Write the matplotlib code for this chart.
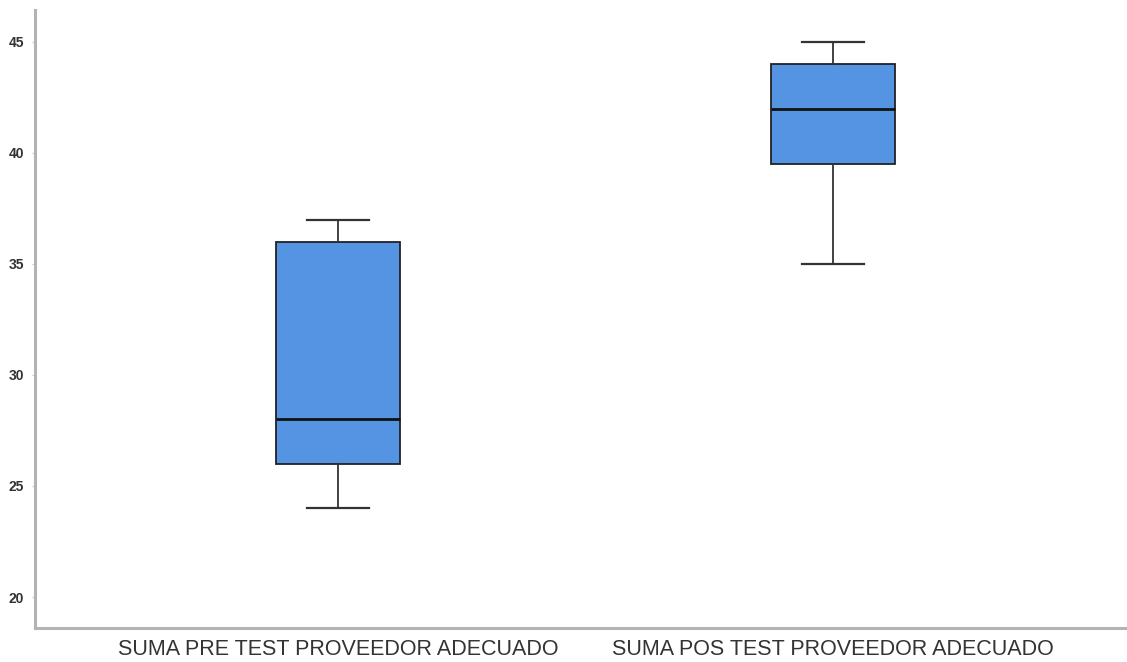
import matplotlib
matplotlib.use("Agg")
import matplotlib.pyplot as plt

# Five-number summaries for each group
categories = ["SUMA PRE TEST PROVEEDOR ADECUADO", "SUMA POS TEST PROVEEDOR ADECUADO"]
whisker_low = [24, 35]
q1 = [26, 39.5]
medians = [28, 42]
q3 = [36, 44]
whisker_high = [37, 45]
y_ticks = [20, 25, 30, 35, 40, 45]

plt.rcParams["font.family"] = ["Liberation Sans", "DejaVu Sans"]

fig = plt.figure(figsize=(11.27, 6.62), dpi=100)
ax = fig.add_axes([35 / 1127, 34 / 662, 1 - 35 / 1127, 618 / 662])

stats = []
for i, name in enumerate(categories):
    stats.append({
        "label": name,
        "whislo": whisker_low[i],
        "q1": q1[i],
        "med": medians[i],
        "q3": q3[i],
        "whishi": whisker_high[i],
        "fliers": [],
    })

positions = list(range(len(categories)))
ax.bxp(
    stats,
    positions=positions,
    widths=0.25,
    patch_artist=True,
    showfliers=False,
    boxprops=dict(facecolor="#5593E3", edgecolor="#222222", linewidth=1.3),
    medianprops=dict(color="#111111", linewidth=2.0),
    whiskerprops=dict(color="#333333", linewidth=1.3),
    capprops=dict(color="#333333", linewidth=1.6),
)

ax.set_xlim(-0.612, 1.594)
ax.set_ylim(18.604, 46.44)
ax.set_yticks(y_ticks)
ax.set_yticklabels([str(v) for v in y_ticks], fontsize=10, color="#333333",
                   fontweight="bold")
ax.set_xticks(positions)
ax.set_xticklabels(categories, fontsize=15.5, color="#333333")

for side in ("top", "right"):
    ax.spines[side].set_visible(False)
for side in ("left", "bottom"):
    ax.spines[side].set_color("#b3b3b3")
    ax.spines[side].set_linewidth(2.2)

ax.tick_params(axis="y", length=2, width=0.8, color="#cccccc", pad=6)
ax.tick_params(axis="x", length=0, pad=8)

fig.savefig("out.png", dpi=100)
